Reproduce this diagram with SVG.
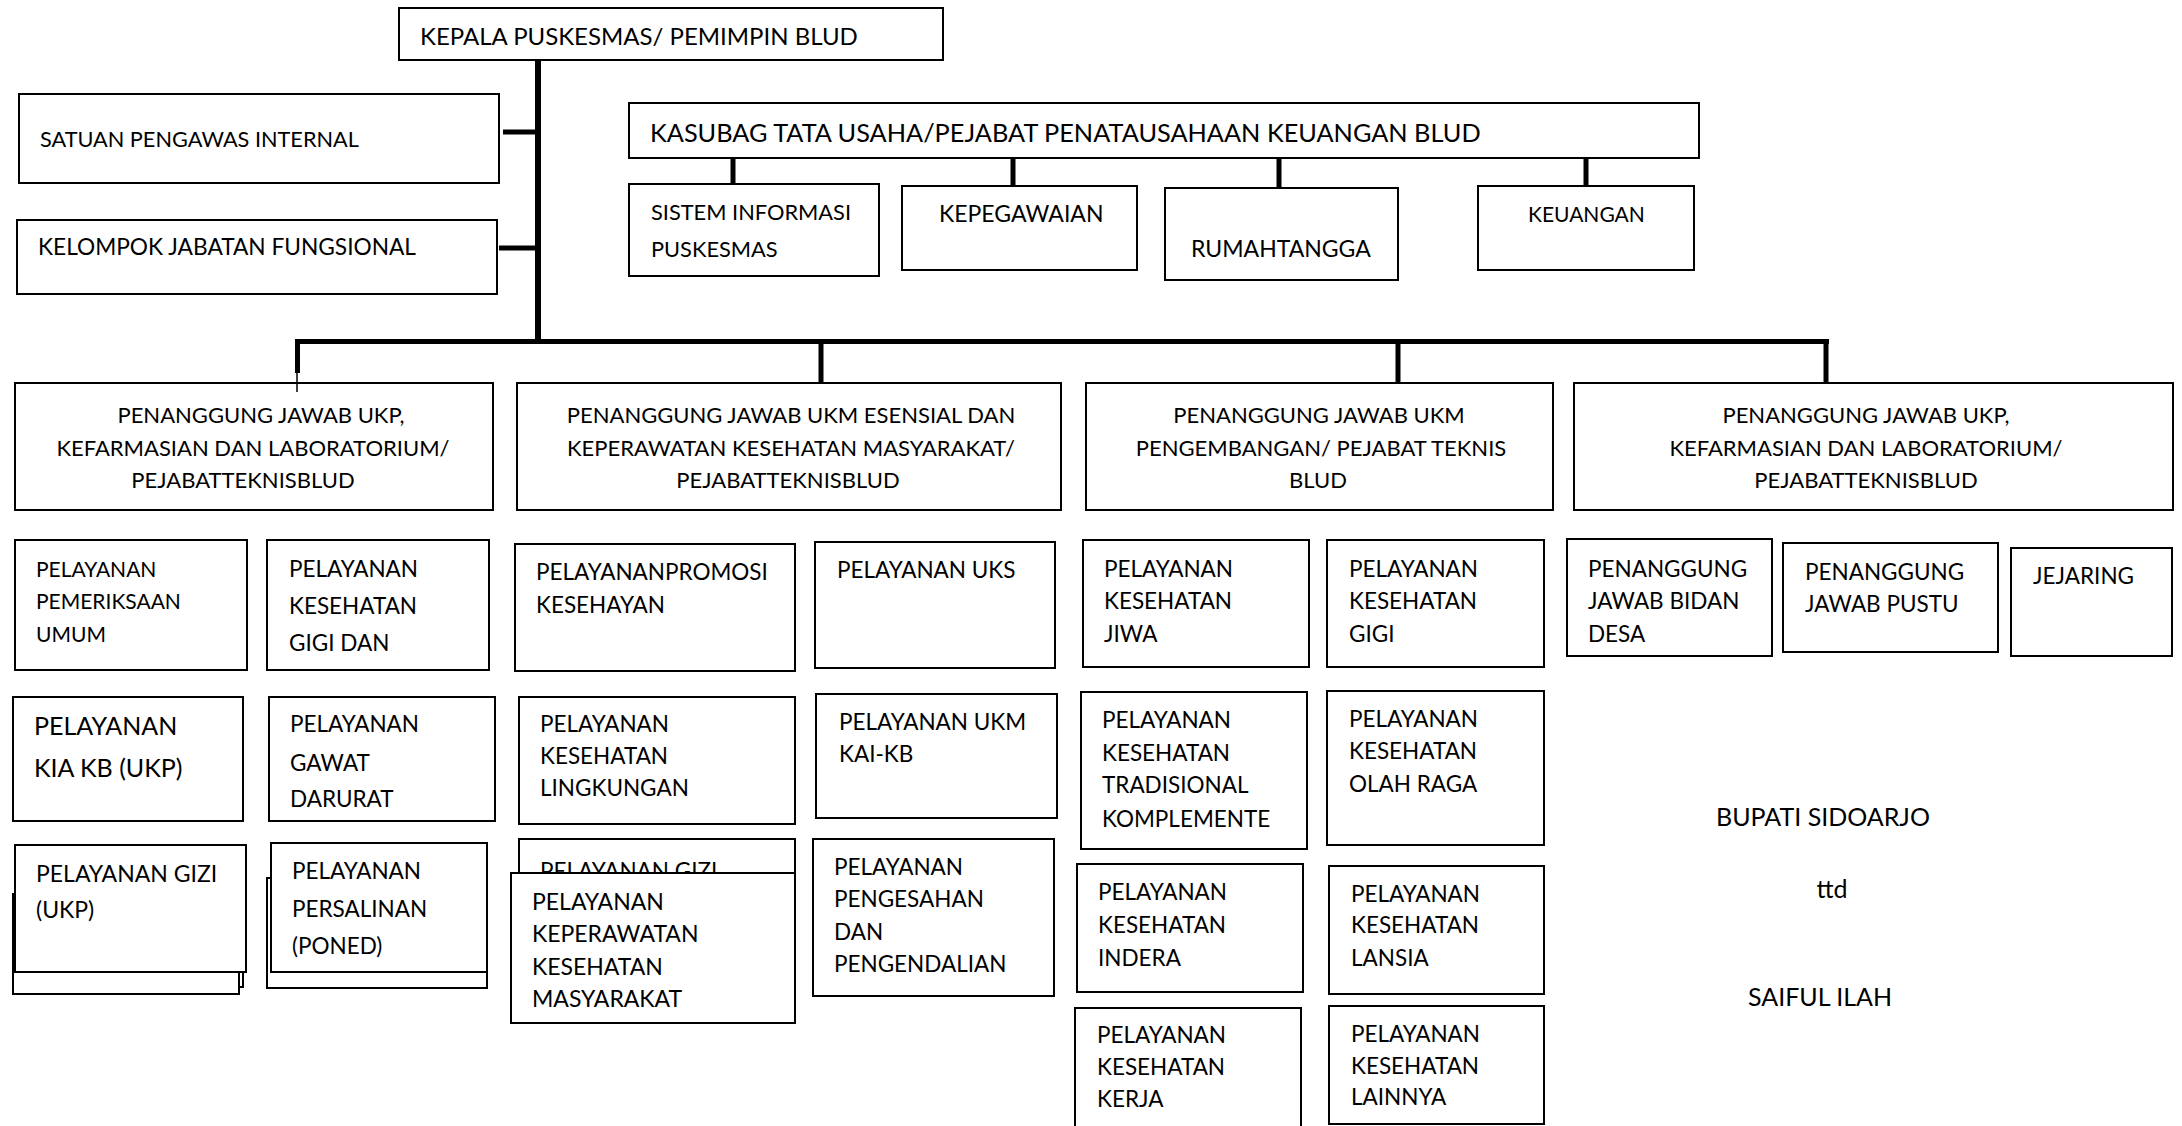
<svg xmlns="http://www.w3.org/2000/svg" width="2182" height="1126" viewBox="0 0 2182 1126">
<style>
  .box { fill: #ffffff; stroke: #000000; stroke-width: 2; }
  .t { font-family: Lato, "Open Sans", "Liberation Sans", sans-serif; fill: #000000; font-size: 22.5px; }
  .l2 { font-size: 22px; text-anchor: middle; }
  .c { text-anchor: middle; }
  .thick { stroke: #000000; stroke-width: 6; fill: none; }
  .bus { stroke: #000000; stroke-width: 5; fill: none; }
  .thin { stroke: #000000; stroke-width: 1.5; fill: none; }
</style>
<rect x="0" y="0" width="2182" height="1126" fill="#ffffff"/>

<g id="connectors">
  <line class="thick" x1="538" y1="60" x2="538" y2="344"/>
  <line class="bus" x1="503" y1="132" x2="541" y2="132"/>
  <line class="bus" x1="499" y1="248" x2="538" y2="248"/>
  <line class="bus" x1="295" y1="341.5" x2="1829" y2="341.5"/>
  <line class="bus" x1="297.5" y1="339" x2="297.5" y2="373"/>
  <line class="thin" x1="297" y1="373" x2="297" y2="392"/>
  <line class="bus" x1="821" y1="341" x2="821" y2="383"/>
  <line class="bus" x1="1398" y1="341" x2="1398" y2="383"/>
  <line class="bus" x1="1826" y1="341" x2="1826" y2="383"/>
  <line class="bus" x1="733" y1="158" x2="733" y2="184"/>
  <line class="bus" x1="1013" y1="158" x2="1013" y2="186"/>
  <line class="bus" x1="1279" y1="158" x2="1279" y2="188"/>
  <line class="bus" x1="1586" y1="158" x2="1586" y2="186"/>
</g>

<g id="kepala">
  <rect class="box" x="399" y="8" width="544" height="52"/>
  <text class="t" x="420" y="45" style="font-size:24px">KEPALA PUSKESMAS/ PEMIMPIN BLUD</text>
</g>
<g id="spi">
  <rect class="box" x="19" y="94" width="480" height="89"/>
  <text class="t" x="40" y="147" style="font-size:21.7px">SATUAN PENGAWAS INTERNAL</text>
</g>
<g id="kjf">
  <rect class="box" x="17" y="220" width="480" height="74"/>
  <text class="t" x="38" y="255" style="font-size:22.7px">KELOMPOK JABATAN FUNGSIONAL</text>
</g>
<g id="kasubag">
  <rect class="box" x="629" y="103" width="1070" height="55"/>
  <text class="t" x="650" y="142" style="font-size:25.3px">KASUBAG TATA USAHA/PEJABAT PENATAUSAHAAN KEUANGAN BLUD</text>
</g>
<g id="sip">
  <rect class="box" x="629" y="184" width="250" height="92"/>
  <text class="t" x="651" y="220" style="font-size:21.8px">SISTEM INFORMASI</text>
  <text class="t" x="651" y="257" style="font-size:21.8px">PUSKESMAS</text>
</g>
<g id="kepegawaian">
  <rect class="box" x="902" y="186" width="235" height="84"/>
  <text class="t" x="939" y="222" style="font-size:23px">KEPEGAWAIAN</text>
</g>
<g id="rumahtangga">
  <rect class="box" x="1165" y="188" width="233" height="92"/>
  <text class="t" x="1191" y="257" style="font-size:23px">RUMAHTANGGA</text>
</g>
<g id="keuangan">
  <rect class="box" x="1478" y="186" width="216" height="84"/>
  <text class="t" x="1528" y="222" style="font-size:21px">KEUANGAN</text>
</g>

<g id="pj-ukp-1">
  <rect class="box" x="15" y="383" width="478" height="127"/>
  <text class="t l2" x="261" y="423">PENANGGUNG JAWAB UKP,</text>
  <text class="t l2" x="253" y="456">KEFARMASIAN DAN LABORATORIUM/</text>
  <text class="t l2" x="243" y="488">PEJABATTEKNISBLUD</text>
</g>
<line class="thin" x1="297" y1="383" x2="297" y2="392"/>
<g id="pj-ukm-esensial">
  <rect class="box" x="517" y="383" width="544" height="127"/>
  <text class="t l2" x="791" y="423">PENANGGUNG JAWAB UKM ESENSIAL DAN</text>
  <text class="t l2" x="791" y="456">KEPERAWATAN KESEHATAN MASYARAKAT/</text>
  <text class="t l2" x="788" y="488">PEJABATTEKNISBLUD</text>
</g>
<g id="pj-ukm-pengembangan">
  <rect class="box" x="1086" y="383" width="467" height="127"/>
  <text class="t l2" x="1319" y="423">PENANGGUNG JAWAB UKM</text>
  <text class="t l2" x="1321" y="456">PENGEMBANGAN/ PEJABAT TEKNIS</text>
  <text class="t l2" x="1318" y="488">BLUD</text>
</g>
<g id="pj-ukp-2">
  <rect class="box" x="1574" y="383" width="599" height="127"/>
  <text class="t l2" x="1866" y="423">PENANGGUNG JAWAB UKP,</text>
  <text class="t l2" x="1866" y="456">KEFARMASIAN DAN LABORATORIUM/</text>
  <text class="t l2" x="1866" y="488">PEJABATTEKNISBLUD</text>
</g>

<!-- column 1 -->
<g id="pemeriksaan-umum">
  <rect class="box" x="15" y="540" width="232" height="130"/>
  <text class="t" x="36" y="577" style="font-size:21px">PELAYANAN</text>
  <text class="t" x="36" y="609" style="font-size:21px">PEMERIKSAAN</text>
  <text class="t" x="36" y="642" style="font-size:21px">UMUM</text>
</g>
<g id="kia-kb">
  <rect class="box" x="13" y="697" width="230" height="124"/>
  <text class="t" x="34" y="735" style="font-size:25px">PELAYANAN</text>
  <text class="t" x="34" y="777" style="font-size:25px">KIA KB (UKP)</text>
</g>
<g id="gizi-ukp">
  <rect class="box" x="13" y="894" width="230" height="93"/>
  <rect class="box" x="13" y="894" width="226" height="100"/>
  <rect class="box" x="15" y="845" width="231" height="127"/>
  <text class="t" x="36" y="882" style="font-size:23px">PELAYANAN GIZI</text>
  <text class="t" x="36" y="918" style="font-size:23px">(UKP)</text>
</g>

<!-- column 2 -->
<g id="gigi-dan">
  <rect class="box" x="267" y="540" width="222" height="130"/>
  <text class="t" x="289" y="577">PELAYANAN</text>
  <text class="t" x="289" y="614">KESEHATAN</text>
  <text class="t" x="289" y="651">GIGI DAN</text>
</g>
<g id="gawat-darurat">
  <rect class="box" x="269" y="697" width="226" height="124"/>
  <text class="t" x="290" y="732">PELAYANAN</text>
  <text class="t" x="290" y="771">GAWAT</text>
  <text class="t" x="290" y="807">DARURAT</text>
</g>
<g id="persalinan">
  <rect class="box" x="267" y="878" width="220" height="110"/>
  <rect class="box" x="271" y="843" width="216" height="129"/>
  <text class="t" x="292" y="879">PELAYANAN</text>
  <text class="t" x="292" y="917">PERSALINAN</text>
  <text class="t" x="292" y="954">(PONED)</text>
</g>

<!-- column 3 -->
<g id="promosi">
  <rect class="box" x="515" y="544" width="280" height="127"/>
  <text class="t" x="536" y="580">PELAYANANPROMOSI</text>
  <text class="t" x="536" y="613">KESEHAYAN</text>
</g>
<g id="lingkungan">
  <rect class="box" x="519" y="697" width="276" height="127"/>
  <text class="t" x="540" y="732">PELAYANAN</text>
  <text class="t" x="540" y="764">KESEHATAN</text>
  <text class="t" x="540" y="796">LINGKUNGAN</text>
</g>
<g id="gizi">
  <rect class="box" x="519" y="839" width="276" height="100"/>
  <text class="t" x="540" y="879">PELAYANAN GIZI</text>
</g>
<g id="keperawatan">
  <rect class="box" x="511" y="873" width="284" height="150"/>
  <text class="t" x="532" y="910" style="font-size:23px">PELAYANAN</text>
  <text class="t" x="532" y="942" style="font-size:23px">KEPERAWATAN</text>
  <text class="t" x="532" y="975" style="font-size:23px">KESEHATAN</text>
  <text class="t" x="532" y="1007" style="font-size:23px">MASYARAKAT</text>
</g>

<!-- column 4 -->
<g id="uks">
  <rect class="box" x="815" y="542" width="240" height="126"/>
  <text class="t" x="837" y="578">PELAYANAN UKS</text>
</g>
<g id="ukm-kai-kb">
  <rect class="box" x="816" y="694" width="241" height="124"/>
  <text class="t" x="839" y="730">PELAYANAN UKM</text>
  <text class="t" x="839" y="762">KAI-KB</text>
</g>
<g id="pengesahan">
  <rect class="box" x="813" y="839" width="241" height="157"/>
  <text class="t" x="834" y="875">PELAYANAN</text>
  <text class="t" x="834" y="907">PENGESAHAN</text>
  <text class="t" x="834" y="940">DAN</text>
  <text class="t" x="834" y="972">PENGENDALIAN</text>
</g>

<!-- column 5 -->
<g id="jiwa">
  <rect class="box" x="1083" y="540" width="226" height="127"/>
  <text class="t" x="1104" y="577">PELAYANAN</text>
  <text class="t" x="1104" y="609">KESEHATAN</text>
  <text class="t" x="1104" y="642">JIWA</text>
</g>
<g id="tradisional">
  <rect class="box" x="1081" y="692" width="226" height="157"/>
  <text class="t" x="1102" y="728">PELAYANAN</text>
  <text class="t" x="1102" y="761">KESEHATAN</text>
  <text class="t" x="1102" y="793">TRADISIONAL</text>
  <text class="t" x="1102" y="827">KOMPLEMENTE</text>
</g>
<g id="indera">
  <rect class="box" x="1077" y="864" width="226" height="128"/>
  <text class="t" x="1098" y="900">PELAYANAN</text>
  <text class="t" x="1098" y="933">KESEHATAN</text>
  <text class="t" x="1098" y="966">INDERA</text>
</g>
<g id="kerja">
  <rect class="box" x="1075" y="1008" width="226" height="130"/>
  <text class="t" x="1097" y="1043">PELAYANAN</text>
  <text class="t" x="1097" y="1075">KESEHATAN</text>
  <text class="t" x="1097" y="1107">KERJA</text>
</g>

<!-- column 6 -->
<g id="gigi">
  <rect class="box" x="1327" y="540" width="217" height="127"/>
  <text class="t" x="1349" y="577">PELAYANAN</text>
  <text class="t" x="1349" y="609">KESEHATAN</text>
  <text class="t" x="1349" y="642">GIGI</text>
</g>
<g id="olahraga">
  <rect class="box" x="1327" y="691" width="217" height="154"/>
  <text class="t" x="1349" y="727">PELAYANAN</text>
  <text class="t" x="1349" y="759">KESEHATAN</text>
  <text class="t" x="1349" y="792">OLAH RAGA</text>
</g>
<g id="lansia">
  <rect class="box" x="1329" y="866" width="215" height="128"/>
  <text class="t" x="1351" y="902">PELAYANAN</text>
  <text class="t" x="1351" y="933">KESEHATAN</text>
  <text class="t" x="1351" y="966">LANSIA</text>
</g>
<g id="lainnya">
  <rect class="box" x="1329" y="1006" width="215" height="118"/>
  <text class="t" x="1351" y="1042">PELAYANAN</text>
  <text class="t" x="1351" y="1074">KESEHATAN</text>
  <text class="t" x="1351" y="1105">LAINNYA</text>
</g>

<!-- column 7 -->
<g id="bidan-desa">
  <rect class="box" x="1567" y="539" width="205" height="117"/>
  <text class="t" x="1588" y="577">PENANGGUNG</text>
  <text class="t" x="1588" y="609">JAWAB BIDAN</text>
  <text class="t" x="1588" y="642">DESA</text>
</g>
<g id="pustu">
  <rect class="box" x="1783" y="543" width="215" height="109"/>
  <text class="t" x="1805" y="580">PENANGGUNG</text>
  <text class="t" x="1805" y="612">JAWAB PUSTU</text>
</g>
<g id="jejaring">
  <rect class="box" x="2011" y="548" width="161" height="108"/>
  <text class="t" x="2033" y="584">JEJARING</text>
</g>

<g id="signature">
  <text class="t c" x="1823" y="826" style="font-size:25px">BUPATI SIDOARJO</text>
  <text class="t c" x="1832" y="898" style="font-size:25px">ttd</text>
  <text class="t c" x="1820" y="1006" style="font-size:25px">SAIFUL ILAH</text>
</g>
</svg>
